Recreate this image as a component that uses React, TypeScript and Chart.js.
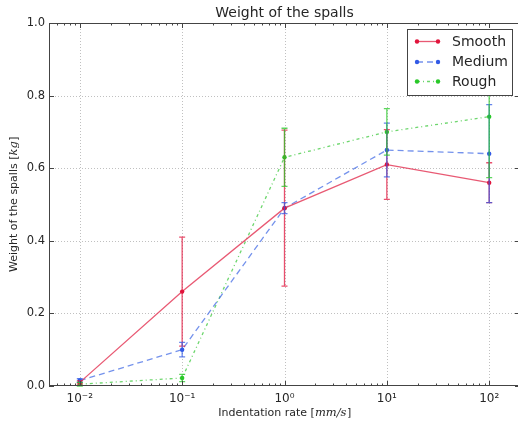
import React, { useEffect, useRef } from 'react';
import { Chart, registerables } from 'chart.js';

Chart.register(...registerables);

// ---- data ----
const rates = [0.01, 0.1, 1, 10, 100];
const xTickLabels = ['10⁻²', '10⁻¹', '10⁰', '10¹', '10²'];
const yTicks = [0, 0.2, 0.4, 0.6, 0.8, 1.0];
const seriesNames = ['Smooth', 'Medium', 'Rough'];
const smooth = [0.01, 0.26, 0.49, 0.61, 0.56];
const smoothErr = [0.004, 0.15, 0.215, 0.096, 0.055];
const medium = [0.015, 0.1, 0.49, 0.65, 0.64];
const mediumErr = [0.005, 0.02, 0.015, 0.074, 0.135];
const rough = [0.005, 0.022, 0.63, 0.7, 0.742];
const roughErr = [0.005, 0.01, 0.08, 0.064, 0.168];
const titleText = 'Weight of the spalls';
const xTitle = 'Indentation rate ';
const xUnit = 'mm/s';
const yTitle = 'Weight of the spalls ';
const yUnit = 'kg';

// ---- styles ----
const lineColors = ['rgba(228,60,90,0.85)', 'rgba(70,110,230,0.75)', 'rgba(60,200,60,0.75)'];
const markColors = ['rgb(225,20,60)', 'rgb(50,90,230)', 'rgb(40,200,40)'];
const dashes: number[][] = [[], [6, 4], [3, 3, 1, 3]];
const FONT = '"DejaVu Sans", sans-serif';

const values = [smooth, medium, rough];
const errors = [smoothErr, mediumErr, roughErr];

const decor = {
  id: 'decor',
  beforeDatasetsDraw(chart: any) {
    const { ctx, chartArea: a, scales } = chart;
    const x = scales.x, y = scales.y;
    ctx.save();
    ctx.strokeStyle = '#c0c0c0';
    ctx.lineWidth = 1;
    ctx.setLineDash([1, 2]);
    for (const v of rates) {
      const px = Math.round(x.getPixelForValue(v)) + 0.5;
      ctx.beginPath(); ctx.moveTo(px, a.top); ctx.lineTo(px, a.bottom); ctx.stroke();
    }
    for (const v of yTicks.slice(1, -1)) {
      const py = Math.round(y.getPixelForValue(v)) + 0.5;
      ctx.beginPath(); ctx.moveTo(a.left, py); ctx.lineTo(a.right, py); ctx.stroke();
    }
    ctx.restore();
  },
  afterDatasetsDraw(chart: any) {
    const { ctx, chartArea: a, scales } = chart;
    const x = scales.x, y = scales.y;
    ctx.save();
    // error bars
    values.forEach((vals, i) => {
      ctx.strokeStyle = markColors[i];
      ctx.globalAlpha = 0.75;
      ctx.lineWidth = 1.3;
      ctx.setLineDash([]);
      vals.forEach((v, j) => {
        const px = x.getPixelForValue(rates[j]);
        const pt = y.getPixelForValue(v + errors[i][j]);
        const pb = y.getPixelForValue(Math.max(0, v - errors[i][j]));
        ctx.beginPath();
        ctx.moveTo(px, pt); ctx.lineTo(px, pb);
        ctx.moveTo(px - 3, pt); ctx.lineTo(px + 3, pt);
        ctx.moveTo(px - 3, pb); ctx.lineTo(px + 3, pb);
        ctx.stroke();
      });
    });
    ctx.globalAlpha = 1;
    // frame
    ctx.strokeStyle = '#444';
    ctx.lineWidth = 1;
    ctx.strokeRect(a.left + 0.5, a.top + 0.5, a.right - a.left - 1, a.bottom - a.top - 1);
    // ticks
    ctx.beginPath();
    const lo = Math.floor(Math.log10(x.min)), hi = Math.ceil(Math.log10(x.max));
    for (let d = lo; d <= hi; d++) {
      for (let k = 1; k <= 9; k++) {
        const v = k * Math.pow(10, d);
        if (v < x.min || v > x.max) continue;
        const px = Math.round(x.getPixelForValue(v)) + 0.5;
        const len = k === 1 ? 5 : 2.5;
        ctx.moveTo(px, a.bottom); ctx.lineTo(px, a.bottom - len);
        ctx.moveTo(px, a.top); ctx.lineTo(px, a.top + len);
      }
    }
    for (const v of yTicks) {
      const py = Math.round(y.getPixelForValue(v)) + 0.5;
      ctx.moveTo(a.left, py); ctx.lineTo(a.left + 5, py);
      ctx.moveTo(a.right, py); ctx.lineTo(a.right - 5, py);
    }
    ctx.stroke();
    ctx.restore();
  },
  afterDraw(chart: any) {
    const { ctx, chartArea: a } = chart;
    const cx = (a.left + a.right) / 2;
    const cy = (a.top + a.bottom) / 2;
    ctx.save();
    ctx.fillStyle = '#262626';
    ctx.textBaseline = 'alphabetic';
    // title
    ctx.font = `14px ${FONT}`;
    ctx.textAlign = 'center';
    ctx.fillText(titleText, cx, 17);
    // axis titles
    const drawMixed = (pre: string, unit: string, xc: number, yb: number) => {
      ctx.font = `11px ${FONT}`;
      const w1 = ctx.measureText(pre + '[').width;
      const w3 = ctx.measureText(']').width;
      ctx.font = `italic 11.5px "DejaVu Serif", serif`;
      const w2 = ctx.measureText(unit).width;
      const sx = xc - (w1 + w2 + w3) / 2;
      ctx.textAlign = 'left';
      ctx.font = `11px ${FONT}`;
      ctx.fillText(pre + '[', sx, yb);
      ctx.font = `italic 11.5px "DejaVu Serif", serif`;
      ctx.fillText(unit, sx + w1, yb);
      ctx.font = `11px ${FONT}`;
      ctx.fillText(']', sx + w1 + w2 + 0.5, yb);
    };
    drawMixed(xTitle, xUnit, cx, 416);
    ctx.save();
    ctx.translate(17, cy);
    ctx.rotate(-Math.PI / 2);
    drawMixed(yTitle, yUnit, 0, 0);
    ctx.restore();
    // legend
    const lx = 407.5, ly = 29.5, lw = 105, lh = 66;
    ctx.fillStyle = '#fff';
    ctx.fillRect(lx, ly, lw, lh);
    ctx.strokeStyle = '#444';
    ctx.lineWidth = 1;
    ctx.setLineDash([]);
    ctx.strokeRect(lx, ly, lw, lh);
    const rows = [41.5, 62, 81.5];
    seriesNames.forEach((name, i) => {
      const yy = rows[i];
      ctx.strokeStyle = lineColors[i];
      ctx.lineWidth = 1.3;
      ctx.setLineDash(dashes[i]);
      ctx.beginPath(); ctx.moveTo(417, yy); ctx.lineTo(438, yy); ctx.stroke();
      ctx.setLineDash([]);
      ctx.fillStyle = markColors[i];
      for (const px of [417, 438]) {
        ctx.beginPath(); ctx.arc(px, yy, 2.2, 0, Math.PI * 2); ctx.fill();
      }
      ctx.fillStyle = '#262626';
      ctx.font = `14px ${FONT}`;
      ctx.textAlign = 'left';
      ctx.textBaseline = 'middle';
      ctx.fillText(name, 452, yy + 0.5);
    });
    ctx.restore();
  },
};

export default function App() {
  const ref = useRef<HTMLCanvasElement>(null);
  useEffect(() => {
    if (!ref.current) return;
    const datasets = values.map((vals, i) => ({
      label: seriesNames[i],
      data: vals.map((v, j) => ({ x: rates[j], y: v })),
      borderColor: lineColors[i],
      backgroundColor: markColors[i],
      pointBackgroundColor: markColors[i],
      pointBorderColor: markColors[i],
      pointRadius: 2.2,
      pointBorderWidth: 0,
      borderWidth: 1.3,
      borderDash: dashes[i],
      tension: 0,
      fill: false,
    }));
    const chart = new Chart(ref.current, {
      type: 'line',
      data: { datasets },
      options: {
        responsive: false,
        animation: false,
        layout: { padding: { top: 23, left: 0, right: 10, bottom: 0 } },
        plugins: { legend: { display: false }, title: { display: false }, tooltip: { enabled: false } },
        scales: {
          x: {
            type: 'logarithmic',
            min: 0.005,
            max: 200,
            grid: { display: false, drawTicks: false },
            border: { display: false },
            afterBuildTicks: (s: any) => { s.ticks = rates.map((v) => ({ value: v })); },
            afterFit: (s: any) => { s.height = 37; },
            ticks: {
              autoSkip: false,
              maxRotation: 0,
              padding: 6,
              color: '#262626',
              font: { family: FONT, size: 12 },
              callback: (v: any) => {
                const idx = rates.indexOf(Number(v));
                return idx >= 0 ? xTickLabels[idx] : '';
              },
            },
          },
          y: {
            min: 0,
            max: 1,
            grid: { display: false, drawTicks: false },
            border: { display: false },
            afterBuildTicks: (s: any) => { s.ticks = yTicks.map((v) => ({ value: v })); },
            afterFit: (s: any) => { s.width = 49; },
            ticks: {
              padding: 4,
              color: '#262626',
              font: { family: FONT, size: 11.5 },
              callback: (v: any) => Number(v).toFixed(1),
            },
          },
        },
      },
      plugins: [decor],
    });
    return () => chart.destroy();
  }, []);
  return (
    <div style={{ position: 'fixed', left: 0, top: 0, width: 518, height: 423, overflow: 'hidden', background: '#fff' }}>
      <canvas ref={ref} width={530} height={423} style={{ width: 530, height: 423, display: 'block' }} />
    </div>
  );
}
